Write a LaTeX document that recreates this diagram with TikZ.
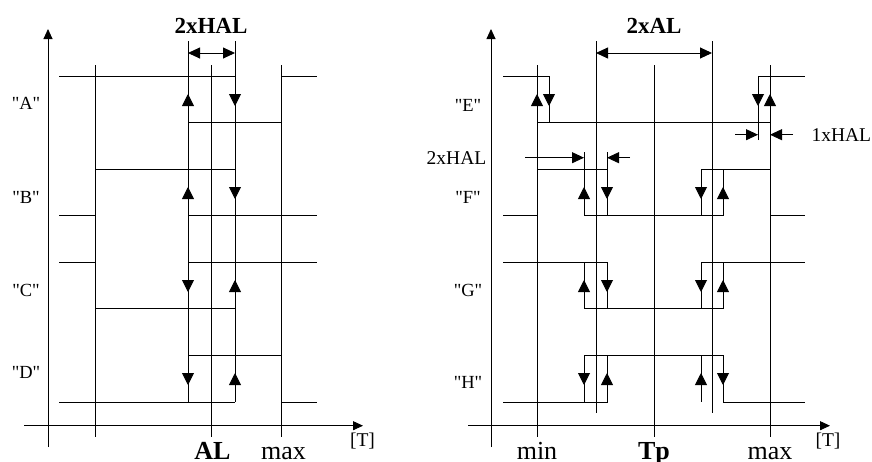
\documentclass[tikz,border=0pt]{standalone}
\usepackage{fontspec}
\setmainfont{Liberation Serif}[Ligatures=TeXOff]
\usetikzlibrary{arrows.meta}

\begin{document}
\begin{tikzpicture}[x=1pt, y=-1pt,
line/.style={draw, line width=0.9pt},
axis/.style={line, -{Triangle[length=10pt, width=9pt]}},
dim/.style={line, {Triangle[length=12pt, width=11pt]}-{Triangle[length=12pt, width=11pt]}},
pointer/.style={line, -{Triangle[length=12pt, width=11pt]}},
marker/.style={line, -{Triangle[length=12pt, width=12pt]}},
tag/.style={font=\fontsize{18.5}{20}\selectfont},
note/.style={font=\fontsize{19.5}{21}\selectfont},
title/.style={font=\bfseries\fontsize{23}{25}\selectfont},
scale-label/.style={anchor=base, font=\fontsize{26}{28}\selectfont},
scale-title/.style={scale-label, font=\bfseries\fontsize{26}{28}\selectfont}
]
\useasboundingbox (0,0) rectangle (872,461);

% left diagram
\draw[axis] (48,447) -- (48,29);
\draw[axis] (24,425.7) -- (363,425.7);
\foreach \x/\a/\b in {95/65/437, 188/41/402, 211/65/437, 235/41/402, 281/65/437}
  \draw[line] (\x,\a) -- (\x,\b);
\draw[dim] (188,53) -- (235,53);
\node[title] (hal-top) at (211,26) {2xHAL};

\draw[line] (59,76) -- (235,76) -- (235,122);
\draw[line] (188,122) -- (281,122) -- (281,76) -- (317,76);
\draw[line] (59,215) -- (95,215) -- (95,169) -- (235,169) -- (235,215);
\draw[line] (188,215) -- (317,215);
\draw[line] (59,262) -- (95,262) -- (95,308) -- (235,308);
\draw[line] (188,262) -- (317,262);
\draw[line] (59,402) -- (235,402);
\draw[line] (188,355) -- (281,355) -- (281,402) -- (317,402);

% markers: x / centre / direction (1 down, -1 up)
\foreach \x/\y/\d in {188/100/-1, 235/100/1, 188/193/-1, 235/193/1,
                      188/286/1, 235/286/-1, 188/379/1, 235/379/-1}
  \draw[marker] (\x,\y-6*\d) -- (\x,\y+6*\d);

\node[tag] (sig-a) at (26,103) {"A"};
\node[tag] (sig-b) at (26,197) {"B"};
\node[tag] (sig-c) at (26,290) {"C"};
\node[tag] (sig-d) at (26,372) {"D"};
\node[note] (t-left) at (362.5,441) {[T]};
\node[scale-title] (al) at (212.5,459) {AL};
\node[scale-label] (max-left) at (283.5,459) {max};

% right diagram
\draw[axis] (491,447) -- (491,29);
\draw[axis] (468,425.7) -- (830,425.7);
\foreach \x/\a/\b in {537/65/437, 596/41/413, 654/65/437, 712/41/413, 770/65/437}
  \draw[line] (\x,\a) -- (\x,\b);
\draw[dim] (596,53) -- (712,53);
\node[title] (al-top) at (654,26) {2xAL};

\draw[line] (503,76) -- (549,76) -- (549,122);
\draw[line] (537,122) -- (770,122);
\draw[line] (758,140) -- (758,76) -- (805,76);
\draw[pointer] (735,134.7) -- (758,134.7);
\draw[pointer] (793,134.7) -- (770,134.7);
\node[note, anchor=west] (hal-one) at (808,134.7) {1xHAL};

\draw[pointer] (525,157.7) -- (584,157.7);
\draw[pointer] (630,157.7) -- (607,157.7);
\node[note] (hal-two) at (456.5,157.7) {2xHAL};

\draw[line] (503,215) -- (537,215) -- (537,169) -- (607,169);
\draw[line] (584,152) -- (584,215) -- (723,215) -- (723,169);
\draw[line] (607,152) -- (607,215);
\draw[line] (701,215) -- (701,169) -- (770,169) -- (770,215) -- (805,215);

\draw[line] (503,262) -- (607,262) -- (607,308);
\draw[line] (584,262) -- (584,308) -- (723,308) -- (723,262);
\draw[line] (701,308) -- (701,262) -- (805,262);

\draw[line] (503,402) -- (607,402) -- (607,355);
\draw[line] (584,402) -- (584,355) -- (723,355) -- (723,402) -- (805,402);
\draw[line] (701,355) -- (701,402);

\foreach \x/\y/\d in {537/100/-1, 549/100/1, 758/100/1, 770/100/-1,
                      584/193/-1, 607/193/1, 701/193/1, 723/193/-1,
                      584/286/-1, 607/286/1, 701/286/1, 723/286/-1,
                      584/379/1, 607/379/-1, 701/379/-1, 723/379/1}
  \draw[marker] (\x,\y-6*\d) -- (\x,\y+6*\d);

\node[tag] (sig-e) at (468,105) {"E"};
\node[tag] (sig-f) at (468,197) {"F"};
\node[tag] (sig-g) at (468,290) {"G"};
\node[tag] (sig-h) at (468,382) {"H"};
\node[note] (t-right) at (828,441) {[T]};
\node[scale-label] (min) at (537,459) {min};
\node[scale-title] (tp) at (654,459) {Tp};
\node[scale-label] (max-right) at (770,459) {max};
\end{tikzpicture}
\end{document}
